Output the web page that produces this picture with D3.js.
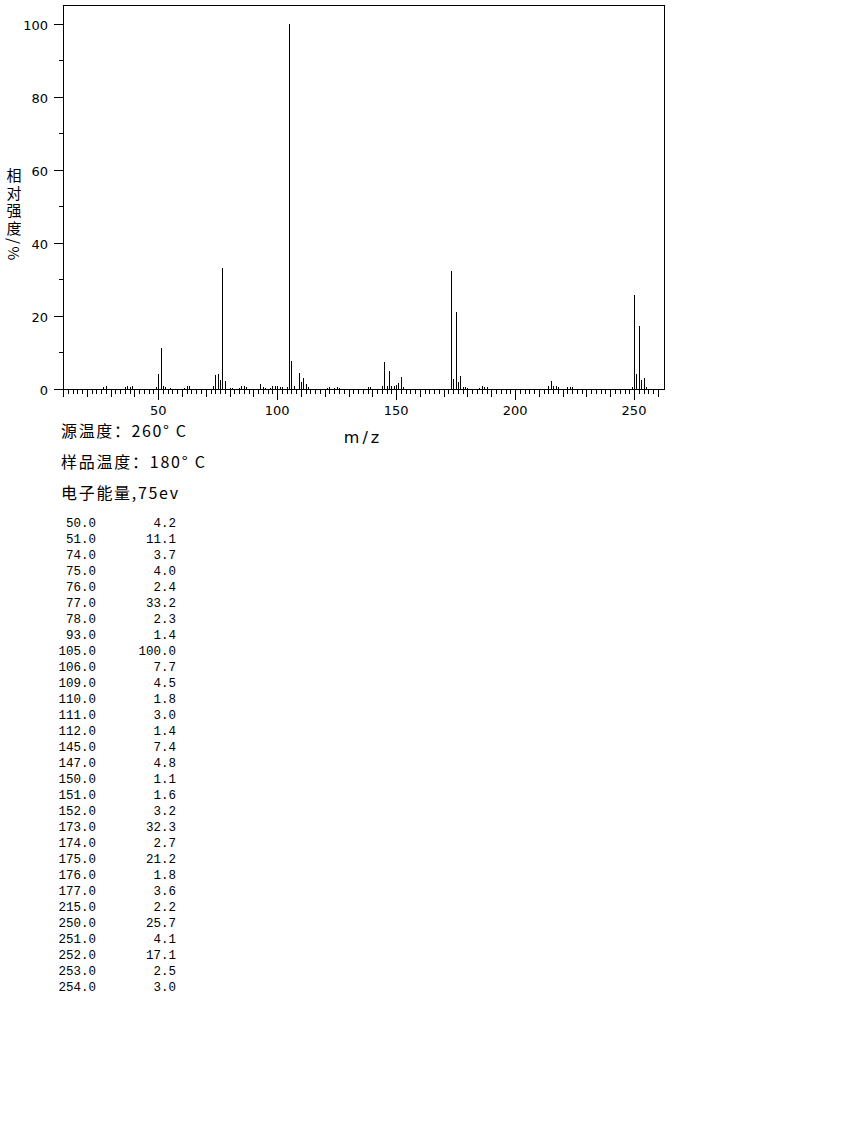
<!DOCTYPE html>
<html><head><meta charset="utf-8">
<script src="https://cdn.jsdelivr.net/npm/d3@7"></script>
<style>body{margin:0;background:#fff}</style>
</head><body>
<svg id="c" width="850" height="1134" xmlns="http://www.w3.org/2000/svg"></svg>
<script>
// Listed peaks (m/z, relative intensity %)
const listedMz  = [50,51,74,75,76,77,78,93,105,106,109,110,111,112,145,147,150,151,152,173,174,175,176,177,215,250,251,252,253,254];
const listedInt = [4.2,11.1,3.7,4.0,2.4,33.2,2.3,1.4,100.0,7.7,4.5,1.8,3.0,1.4,7.4,4.8,1.1,1.6,3.2,32.3,2.7,21.2,1.8,3.6,2.2,25.7,4.1,17.1,2.5,3.0];
// Minor (unlisted) peaks
const minorMz  = [27,28,36,37,38,39,49,52,53,55,61,62,63,73,80,81,84,85,86,87,94,95,97,98,99,100,101,102,104,107,113,121,122,124,125,126,138,139,144,146,148,149,153,178,179,180,185,186,187,188,214,216,217,218,222,223,224,249,255];
const minorInt = [0.6,0.8,0.5,0.7,0.6,0.9,0.6,0.7,0.5,0.4,0.4,0.7,0.9,0.8,0.4,0.4,0.3,0.8,0.9,0.6,0.5,0.4,0.4,0.8,0.8,0.7,0.5,0.5,0.6,0.7,0.5,0.4,0.5,0.4,0.5,0.4,0.6,0.6,0.7,0.9,0.9,0.8,0.6,0.6,0.5,0.4,0.3,0.8,0.5,0.5,0.7,0.8,0.9,0.5,0.6,0.5,0.6,0.6,0.5];
const yTicks = [0,20,40,60,80,100];
const yMinorTicks = [10,30,50,70,90];
const xTickLabels = [50,100,150,200,250];
const infoLines = ["源温度：260° C","样品温度：180° C","电子能量,75ev"];
const infoWidths = [125,144,117];
const yLabel = "相对强度/%";
const xLabel = "m/z";

const svg = d3.select("#c");
const L = 63.5, R = 664.5, T = 5.5, B = 389.5;
const x = d3.scaleLinear().domain([10, 262.6]).range([63, 664]);
const y = d3.scaleLinear().domain([0, 100]).range([389, 23.5]);
const px = v => Math.round(x(v)) + 0.5;
const py = v => Math.round(y(v)) + 0.5;

const g = svg.append("g").attr("shape-rendering","crispEdges").attr("stroke","#000").attr("stroke-width",1);

// frame
g.append("path").attr("fill","none").attr("d",`M${L},${T}H${R}V${B}H${L}Z`);

// peaks
const peaks = listedMz.map((m,i)=>({m, v:listedInt[i]})).concat(minorMz.map((m,i)=>({m, v:minorInt[i]})));
g.selectAll("line.pk").data(peaks).join("line").attr("class","pk")
  .attr("x1",d=>px(d.m)).attr("x2",d=>px(d.m))
  .attr("y1",B).attr("y2",d=>Math.round(y(d.v)));

// y ticks
g.selectAll("line.yt").data(yTicks).join("line").attr("class","yt")
  .attr("x1",L-10).attr("x2",L).attr("y1",d=>py(d)).attr("y2",d=>py(d));
g.selectAll("line.ym").data(yMinorTicks).join("line").attr("class","ym")
  .attr("x1",L-5).attr("x2",L).attr("y1",d=>py(d)).attr("y2",d=>py(d));

// x ticks every 2
const xt = d3.range(10, 261, 2);
g.selectAll("line.xt").data(xt).join("line").attr("class","xt")
  .attr("x1",d=>px(d)).attr("x2",d=>px(d)).attr("y1",B)
  .attr("y2",d=> B + (d%50===0 ? 10 : d%10===0 ? 7 : 4));

const font = "'DejaVu Sans', sans-serif";
svg.selectAll("text.yl").data(yTicks).join("text").attr("class","yl")
  .attr("x",48).attr("y",d=>py(d)+5).attr("text-anchor","end")
  .attr("font-family",font).attr("font-size",13).text(d=>d);
svg.selectAll("text.xl").data(xTickLabels).join("text").attr("class","xl")
  .attr("x",d=>x(d)).attr("y",415).attr("text-anchor","middle")
  .attr("font-family",font).attr("font-size",13).text(d=>d);

svg.append("text").attr("x",363).attr("y",443).attr("text-anchor","middle")
  .attr("font-family",font).attr("font-size",16).attr("letter-spacing",3).text(xLabel);

// y label (vertical writing mode, single text)
const cjk = "'Noto Sans CJK SC', sans-serif";
svg.append("text").attr("x",14).attr("y",168)
  .style("writing-mode","vertical-rl").style("text-orientation","mixed")
  .attr("font-family",cjk).attr("font-size",15).attr("letter-spacing",2.5).text(yLabel);

// info lines
infoLines.forEach((t,i)=>{
  svg.append("text").attr("x",61).attr("y",437+i*31)
    .attr("font-family",cjk).attr("font-size",16)
    .attr("textLength",infoWidths[i]).attr("lengthAdjust","spacing").text(t);
});

// table
const mono = "'Liberation Mono', monospace";
listedMz.forEach((m,i)=>{
  svg.append("text").attr("x",96).attr("y",527+i*16).attr("text-anchor","end")
    .attr("font-family",mono).attr("font-size",12.5).text(m.toFixed(1));
  svg.append("text").attr("x",176).attr("y",527+i*16).attr("text-anchor","end")
    .attr("font-family",mono).attr("font-size",12.5).text(listedInt[i].toFixed(1));
});
</script>
</body></html>
